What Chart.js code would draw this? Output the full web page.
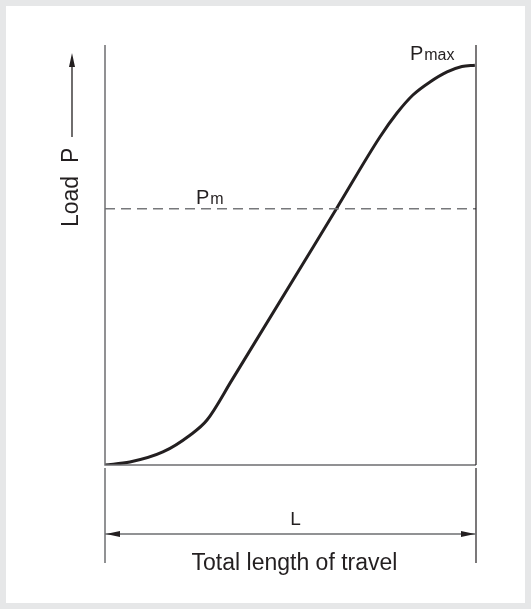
<!DOCTYPE html>
<html>
<head>
<meta charset="utf-8">
<script src="https://cdn.jsdelivr.net/npm/chart.js@4"></script>
<style>
  body { margin: 0; background: #e6e7e8; }
  #frame { position: absolute; left: 6px; top: 6px; width: 519px; height: 597px; background: #fff; }
</style>
</head>
<body>
<div id="frame"><canvas id="loadChart"></canvas></div>
<script>
// Load vs travel (x: % of L, y: % of full scale)
const travel = [0, 6.7, 15.6, 22.9, 27.5, 34.2, 62.5, 74.1, 78.7, 83.0, 87.6, 92.2, 96.2, 99.7];
const load = [0, 0.7, 3.1, 7.1, 10.7, 20.2, 61.2, 78.1, 83.8, 88.1, 91.2, 93.6, 94.9, 95.2];
const meanLoad = 61;
const maxLoadPoint = { x: 83, y: 100 };

const ink = '#231f20';
const font = '"Liberation Sans", Arial, sans-serif';

function arrowHead(ctx, x, y, dir) {
  // dir: 'up', 'left', 'right'
  ctx.beginPath();
  if (dir === 'up') {
    ctx.moveTo(x, y); ctx.lineTo(x - 3, y + 14); ctx.lineTo(x + 3, y + 14);
  } else if (dir === 'left') {
    ctx.moveTo(x, y); ctx.lineTo(x + 14, y - 3); ctx.lineTo(x + 14, y + 3);
  } else {
    ctx.moveTo(x, y); ctx.lineTo(x - 14, y - 3); ctx.lineTo(x - 14, y + 3);
  }
  ctx.closePath();
  ctx.fill();
}

const decorations = {
  id: 'decorations',
  afterDraw(chart) {
    const { ctx, chartArea: a, scales } = chart;
    ctx.save();

    // frame lines
    ctx.strokeStyle = '#6d6e70';
    ctx.lineWidth = 1.5;
    ctx.beginPath();
    ctx.moveTo(a.left, a.top); ctx.lineTo(a.left, a.bottom); ctx.lineTo(a.right, a.bottom);
    ctx.stroke();
    ctx.strokeStyle = ink;
    ctx.lineWidth = 1.2;
    ctx.beginPath();
    ctx.moveTo(a.right, a.top); ctx.lineTo(a.right, a.bottom);
    ctx.stroke();

    // dimension lines under the axis
    ctx.strokeStyle = '#6d6e70';
    ctx.lineWidth = 1.5;
    ctx.beginPath();
    ctx.moveTo(a.left, a.bottom + 3); ctx.lineTo(a.left, a.bottom + 98);
    ctx.stroke();
    ctx.strokeStyle = ink;
    ctx.lineWidth = 1.2;
    ctx.beginPath();
    ctx.moveTo(a.right, a.bottom + 3); ctx.lineTo(a.right, a.bottom + 98);
    ctx.stroke();
    const dimY = a.bottom + 69;
    ctx.strokeStyle = '#6d6e70';
    ctx.lineWidth = 1.5;
    ctx.beginPath();
    ctx.moveTo(a.left, dimY); ctx.lineTo(a.right, dimY);
    ctx.stroke();
    ctx.fillStyle = ink;
    arrowHead(ctx, a.left + 1, dimY, 'left');
    arrowHead(ctx, a.right - 1, dimY, 'right');

    const midX = (a.left + a.right) / 2;
    ctx.textAlign = 'center';
    ctx.textBaseline = 'alphabetic';
    ctx.font = '19px ' + font;
    ctx.fillText('L', midX + 5, a.bottom + 60);
    ctx.font = '23px ' + font;
    ctx.fillText('Total length of travel', midX + 4, a.bottom + 105);

    // y title with arrow
    const yx = a.left - 33;
    ctx.save();
    ctx.translate(yx, a.top + 182);
    ctx.rotate(-Math.PI / 2);
    ctx.textAlign = 'left';
    ctx.textBaseline = 'middle';
    ctx.font = '23px ' + font;
    ctx.fillText('Load  P', 0, 0);
    ctx.restore();
    ctx.strokeStyle = ink;
    ctx.lineWidth = 1.3;
    ctx.beginPath();
    ctx.moveTo(yx, a.top + 92); ctx.lineTo(yx, a.top + 18);
    ctx.stroke();
    arrowHead(ctx, yx, a.top + 8, 'up');

    // P labels
    function pLabel(sub, x, y) {
      ctx.textAlign = 'left';
      ctx.font = '20px ' + font;
      ctx.fillText('P', x, y);
      const w = ctx.measureText('P').width;
      ctx.font = '16px ' + font;
      ctx.fillText(sub, x + w + 1, y);
    }
    pLabel('m', scales.x.getPixelForValue(24.5), scales.y.getPixelForValue(meanLoad) - 5);
    pLabel('max', scales.x.getPixelForValue(maxLoadPoint.x) - 3, scales.y.getPixelForValue(maxLoadPoint.y) + 15);

    ctx.restore();
  }
};

new Chart(document.getElementById('loadChart'), {
  type: 'scatter',
  data: {
    datasets: [
      {
        label: 'Pm',
        data: [{ x: 0, y: meanLoad }, { x: 100, y: meanLoad }],
        showLine: true,
        borderColor: '#77787b',
        borderWidth: 1.4,
        borderDash: [10, 6],
        pointRadius: 0
      },
      {
        label: 'Load P',
        data: travel.map((x, i) => ({ x: x, y: load[i] })),
        showLine: true,
        borderColor: ink,
        borderWidth: 3,
        cubicInterpolationMode: 'monotone',
        pointRadius: 0
      }
    ]
  },
  options: {
    responsive: true,
    maintainAspectRatio: false,
    animation: false,
    layout: { padding: { left: 99, top: 39, right: 49, bottom: 138 } },
    plugins: { legend: { display: false }, tooltip: { enabled: false } },
    scales: {
      x: { type: 'linear', min: 0, max: 100, display: false },
      y: { type: 'linear', min: 0, max: 100, display: false }
    }
  },
  plugins: [decorations]
});
</script>
</body>
</html>
